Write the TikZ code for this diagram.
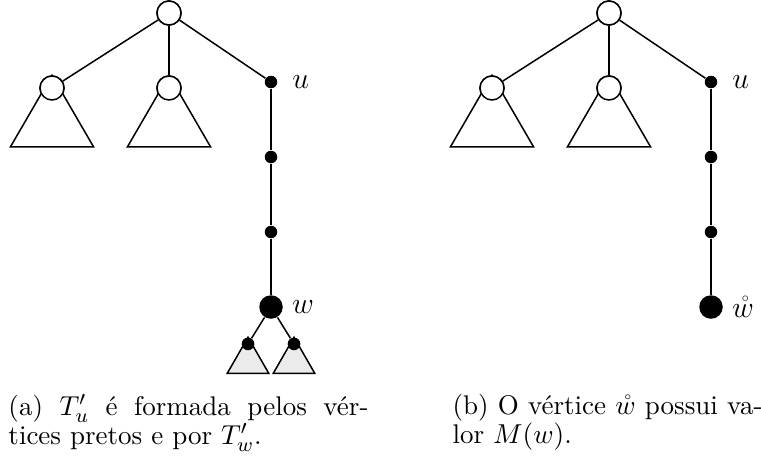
\documentclass[tikz,border=0pt]{standalone}
\usepackage{fontspec}
\usepackage{amsmath}
\usetikzlibrary{positioning,calc}

\begin{document}
\begin{tikzpicture}[x=0.4pt,y=-0.4pt,
  font=\fontsize{10.8}{11.6}\selectfont,
  wv/.style={circle,draw=black,line width=0.6pt,fill=white,minimum size=9.6pt,inner sep=0},
  bv/.style={circle,fill=black,minimum size=5pt,inner sep=0},
  bigv/.style={circle,fill=black,minimum size=9.4pt,inner sep=0},
  edge/.style={line width=0.6pt},
  sub/.style={draw=black,line width=0.6pt,fill=white,line join=miter},
  subg/.style={sub,fill=black!8},
  lbl/.style={font=\fontsize{11.5}{12}\selectfont},
  capt/.style={anchor=north west,inner sep=0,align=justify}]

\useasboundingbox (0,0) rectangle (761,461);

%% (a) left tree
\node[wv] (ar) at (169,13) {};
\node[wv] (al) at (52,88) {};
\node[wv] (am) at (169,88) {};
\node[bv] (au) at (271,82) {};
\node[bv] (a1) at (271,157) {};
\node[bv] (a2) at (271,232) {};
\node[bigv] (aw) at (271,307) {};
\node[bv] (as1) at (248,344) {};
\node[bv] (as2) at (294,344) {};

%% subtrees
\draw[sub] (al.north) -- ++(-41.5,71.5) -- ++(83,0) -- cycle;
\draw[sub] (am.north) -- ++(-41.5,71.5) -- ++(83,0) -- cycle;
\draw[subg] (as1.north) -- ++(-20.7,36) -- ++(41.4,0) -- cycle;
\draw[subg] (as2.north) -- ++(-20.7,36) -- ++(41.4,0) -- cycle;

\foreach \a/\b in {ar/al, ar/am, ar/au, au/a1, a1/a2, a2/aw, aw/as1, aw/as2}
  \draw[edge] (\a) -- (\b);
%% redraw nodes on top
\foreach \n in {ar,al,am}
  \node[wv] at (\n) {};
\foreach \n in {as1,as2}
  \node[bv] at (\n) {};

\node[lbl,right=0.8mm of au] {$u$};
\node[lbl,right=0pt of aw] {$w$};

%% (b) right tree
\begin{scope}[shift={(440,0)}]
\node[wv] (br) at (169,13) {};
\node[wv] (bl) at (52,88) {};
\node[wv] (bm) at (169,88) {};
\node[bv] (bu) at (271,82) {};
\node[bv] (b1) at (271,157) {};
\node[bv] (b2) at (271,232) {};
\node[bigv] (bw) at (271,307) {};
\end{scope}

\draw[sub] (bl.north) -- ++(-41.5,71.5) -- ++(83,0) -- cycle;
\draw[sub] (bm.north) -- ++(-41.5,71.5) -- ++(83,0) -- cycle;

\foreach \a/\b in {br/bl, br/bm, br/bu, bu/b1, b1/b2, b2/bw}
  \draw[edge] (\a) -- (\b);
\foreach \n in {br,bl,bm}
  \node[wv] at (\n) {};

\node[lbl,right=0.8mm of bu] {$u$};
\node[lbl,right=0pt of bw] {$\mathring{w}$};

%% captions
\node[capt,text width=144pt] (capa) at (8,394)
  {(a) $T'_u$ é formada pelos vér-\linebreak tices pretos e por $T'_w$.};
\node[capt,text width=124pt] (capb) at (452,394)
  {(b) O vértice $\mathring{w}$ possui va-\linebreak lor $M(w)$.};
\end{tikzpicture}
\end{document}
